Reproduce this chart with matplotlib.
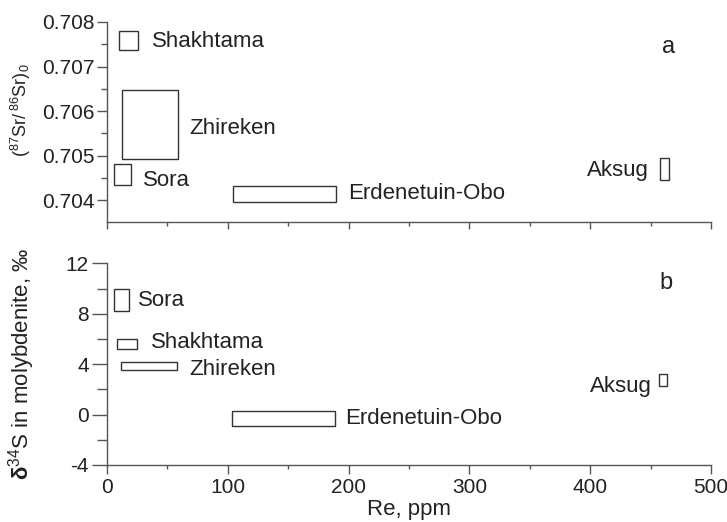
import matplotlib
matplotlib.use("Agg")
import matplotlib.pyplot as plt
from matplotlib.ticker import MultipleLocator

plt.rcParams['font.family'] = ['Liberation Sans', 'DejaVu Sans']
plt.rcParams['mathtext.fontset'] = 'custom'
plt.rcParams['mathtext.rm'] = 'Liberation Sans'
plt.rcParams['mathtext.it'] = 'Liberation Sans:italic'
plt.rcParams['mathtext.bf'] = 'Liberation Sans:bold'
plt.rcParams['axes.unicode_minus'] = False

# Panel a: (87Sr/86Sr)0 ranges vs Re
namen_sr = ['Shakhtama', 'Zhireken', 'Sora', 'Erdenetuin-Obo', 'Aksug']
re_min_sr = [10, 12.7, 5.8, 104, 457.5]
re_max_sr = [25.7, 59, 19.9, 189.5, 465]
sr_min = [0.70737, 0.70493, 0.70433, 0.70396, 0.70445]
sr_max = [0.7078, 0.70647, 0.70482, 0.70431, 0.70495]

# Panel b: d34S ranges vs Re
namen_s = ['Sora', 'Shakhtama', 'Zhireken', 'Erdenetuin-Obo', 'Aksug']
re_min_s = [6, 8.5, 11.6, 103.8, 456.8]
re_max_s = [18.2, 24.8, 57.7, 188.6, 463.7]
s_min = [8.2, 5.2, 3.5, -0.91, 2.26]
s_max = [10.0, 5.97, 4.17, 0.3, 3.2]

# Beschriftungspositionen (x, y, Ausrichtung)
pos_sr = [(37, 0.70743, 'left'), (68, 0.70548, 'left'), (29.5, 0.70432, 'left'),
          (200, 0.70402, 'left'), (448.5, 0.70455, 'right')]
pos_s = [(25.4, 8.61, 'left'), (36, 5.25, 'left'), (68, 3.13, 'left'),
         (197, -0.75, 'left'), (451, 1.82, 'right')]

textfarbe = '#222222'
linienfarbe = '#555555'
fs = 16
fs_ticks = 15

fig = plt.figure(figsize=(7.27, 5.22), dpi=100)
ax1 = fig.add_axes([0.1472, 0.5747, 0.8308, 0.3832])
ax2 = fig.add_axes([0.1472, 0.1092, 0.8308, 0.3864])


def kaesten(ax, namen, x0, x1, y0, y1, positionen):
    breiten = [b - a for a, b in zip(x0, x1)]
    hoehen = [b - a for a, b in zip(y0, y1)]
    ax.bar(x0, hoehen, width=breiten, bottom=y0, align='edge',
           fill=False, edgecolor='#333333', linewidth=1.0)
    for name, (x, y, ha) in zip(namen, positionen):
        ax.text(x, y, name, ha=ha, va='baseline', fontsize=fs, color=textfarbe)


def achsen_stil(ax, ylen_major, ylen_minor, xlen_major, xlen_minor):
    for s in ['top', 'right']:
        ax.spines[s].set_visible(False)
    for s in ['left', 'bottom']:
        ax.spines[s].set_color(linienfarbe)
        ax.spines[s].set_linewidth(1.0)
    ax.set_xlim(0, 500)
    ax.xaxis.set_major_locator(MultipleLocator(100))
    ax.xaxis.set_minor_locator(MultipleLocator(50))
    ax.tick_params(axis='x', which='major', direction='out', length=xlen_major,
                   width=1.0, color=linienfarbe, labelsize=fs_ticks, labelcolor=textfarbe, pad=3)
    ax.tick_params(axis='x', which='minor', direction='out', length=xlen_minor,
                   width=1.0, color=linienfarbe)
    ax.tick_params(axis='y', which='major', direction='out', length=ylen_major,
                   width=1.0, color=linienfarbe, labelsize=fs_ticks, labelcolor=textfarbe, pad=2)
    ax.tick_params(axis='y', which='minor', direction='out', length=ylen_minor,
                   width=1.0, color=linienfarbe)


# Oberes Bild (a)
kaesten(ax1, namen_sr, re_min_sr, re_max_sr, sr_min, sr_max, pos_sr)
achsen_stil(ax1, 7, 4, 5, 3)
ax1.set_ylim(0.70351, 0.708)
ax1.yaxis.set_major_locator(MultipleLocator(0.001))
ax1.yaxis.set_minor_locator(MultipleLocator(0.0005))
ax1.yaxis.set_major_formatter(plt.FormatStrFormatter('%.3f'))
ax1.tick_params(axis='x', labelbottom=False)
ax1.text(464.5, 0.70731, 'a', ha='center', va='baseline', fontsize=17, color=textfarbe)
ax1.set_ylabel(r'$(^{87}\mathrm{Sr}/\,^{86}\mathrm{Sr})_0$', fontsize=13, color=textfarbe)
ax1.yaxis.set_label_coords(-0.1225, 0.56)

# Unteres Bild (b)
kaesten(ax2, namen_s, re_min_s, re_max_s, s_min, s_max, pos_s)
achsen_stil(ax2, 11, 7, 6.5, 3)
ax2.set_ylim(-4, 12)
ax2.yaxis.set_major_locator(MultipleLocator(4))
ax2.yaxis.set_minor_locator(MultipleLocator(2))
ax2.text(463, 9.94, 'b', ha='center', va='baseline', fontsize=17, color=textfarbe)
ax2.set_ylabel(r'$\mathbf{\delta}^{34}$S in molybdenite, ‰', fontsize=fs, color=textfarbe)
ax2.yaxis.set_label_coords(-0.116, 0.5)
ax2.set_xlabel('Re, ppm', fontsize=fs, color=textfarbe, labelpad=1)

fig.savefig('out.png', dpi=100)
